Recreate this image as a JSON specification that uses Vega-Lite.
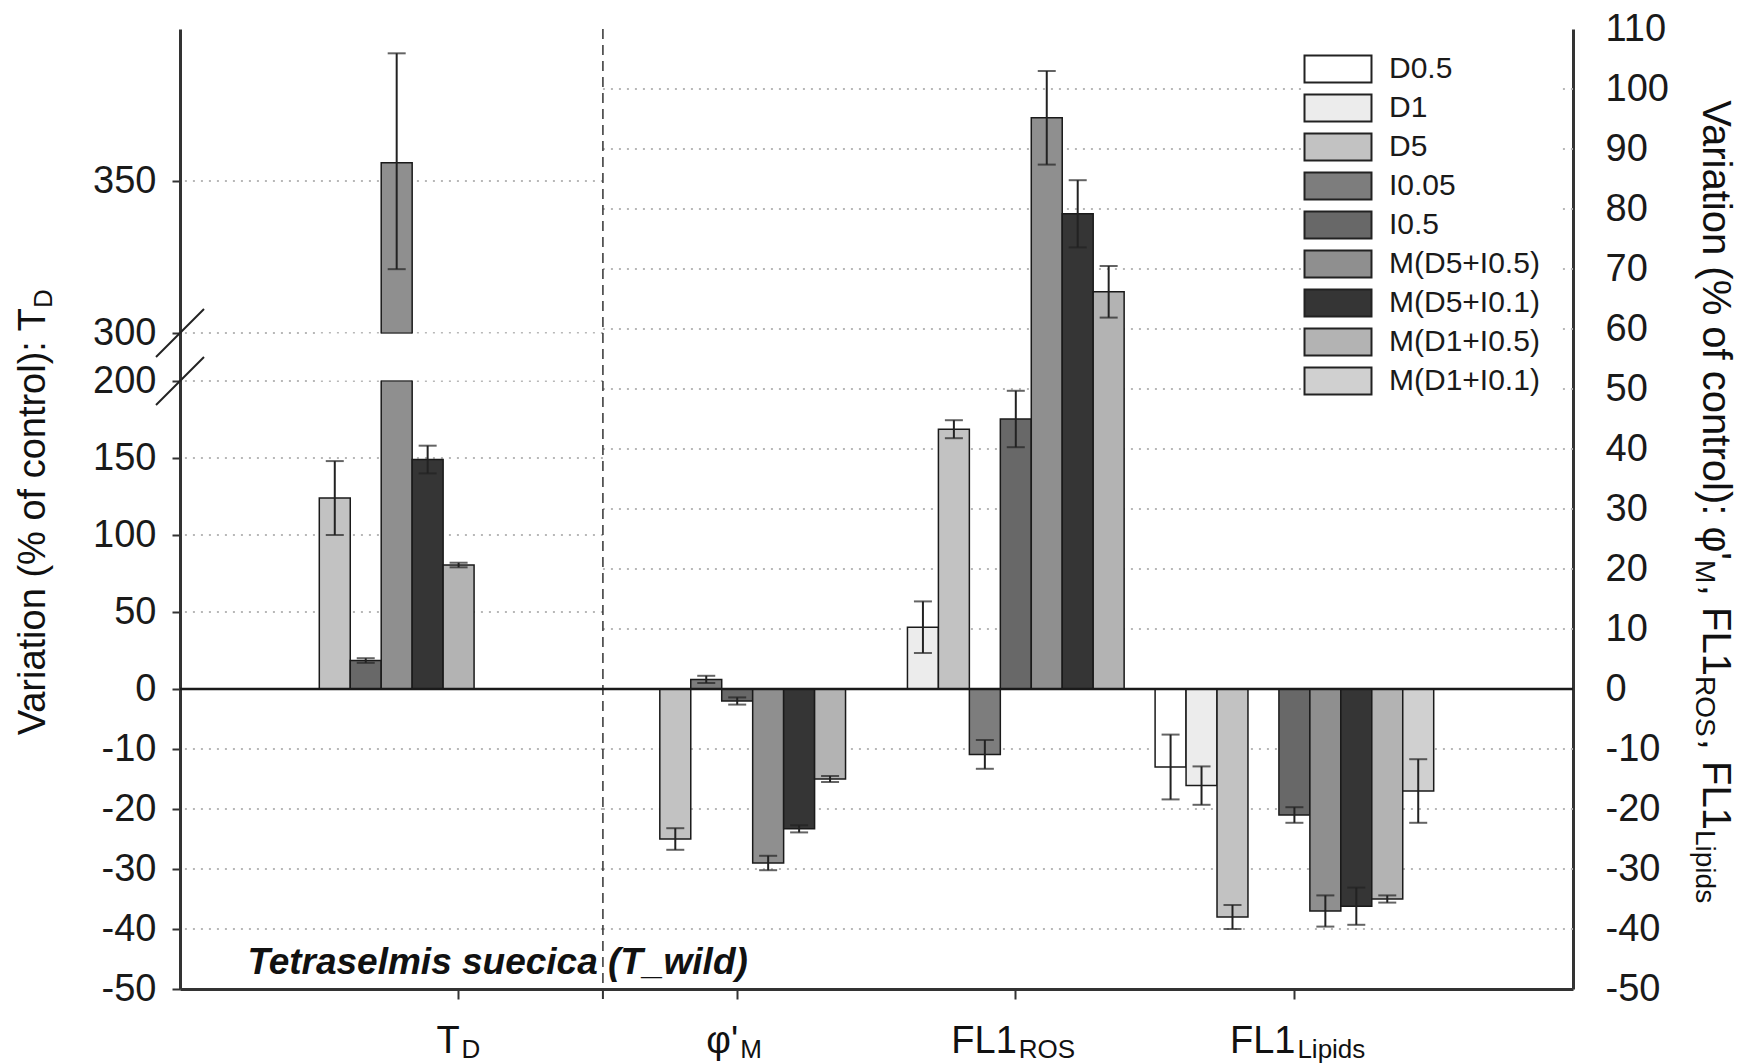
{
  "$schema": "https://vega.github.io/schema/vega-lite/v6.json",
  "width": 1393,
  "height": 960,
  "autosize": {"type": "none"},
  "padding": {"left": 180, "top": 29, "right": 168, "bottom": 75},
  "background": "white",
  "config": {
    "view": {"stroke": null},
    "font": "Liberation Sans",
    "axis": {"labelFont": "Liberation Sans", "labelColor": "#1a1a1a", "domainColor": "#333333", "tickColor": "#333333"}
  },
  "datasets": {
    "td": [
      {"cat": "TD", "series": "D5", "value": 124, "lo": 100, "hi": 148},
      {"cat": "TD", "series": "I0.5", "value": 18.5, "lo": 17, "hi": 20},
      {"cat": "TD", "series": "M(D5+I0.5)", "value": 356, "lo": 321, "hi": 392},
      {"cat": "TD", "series": "M(D5+I0.1)", "value": 149, "lo": 140, "hi": 158},
      {"cat": "TD", "series": "M(D1+I0.5)", "value": 80.5, "lo": 79, "hi": 82}
    ],
    "main": [
      {"cat": "PhiM", "series": "D5", "value": -25, "lo": -26.8, "hi": -23.2},
      {"cat": "PhiM", "series": "I0.05", "value": 1.6, "lo": 1.0, "hi": 2.2},
      {"cat": "PhiM", "series": "I0.5", "value": -2.0, "lo": -2.6, "hi": -1.4},
      {"cat": "PhiM", "series": "M(D5+I0.5)", "value": -29, "lo": -30.2, "hi": -27.8},
      {"cat": "PhiM", "series": "M(D5+I0.1)", "value": -23.3, "lo": -23.9, "hi": -22.7},
      {"cat": "PhiM", "series": "M(D1+I0.5)", "value": -15, "lo": -15.5, "hi": -14.5},
      {"cat": "FL1ROS", "series": "D1", "value": 10.3, "lo": 6.0, "hi": 14.6},
      {"cat": "FL1ROS", "series": "D5", "value": 43.3, "lo": 41.8, "hi": 44.8},
      {"cat": "FL1ROS", "series": "I0.05", "value": -10.9, "lo": -13.3, "hi": -8.5},
      {"cat": "FL1ROS", "series": "I0.5", "value": 45, "lo": 40.3, "hi": 49.7},
      {"cat": "FL1ROS", "series": "M(D5+I0.5)", "value": 95.2, "lo": 87.4, "hi": 103},
      {"cat": "FL1ROS", "series": "M(D5+I0.1)", "value": 79.2, "lo": 73.6, "hi": 84.8},
      {"cat": "FL1ROS", "series": "M(D1+I0.5)", "value": 66.2, "lo": 61.9, "hi": 70.5},
      {"cat": "FL1Lipids", "series": "D0.5", "value": -13, "lo": -18.4, "hi": -7.6},
      {"cat": "FL1Lipids", "series": "D1", "value": -16.1, "lo": -19.3, "hi": -12.9},
      {"cat": "FL1Lipids", "series": "D5", "value": -38, "lo": -40, "hi": -36},
      {"cat": "FL1Lipids", "series": "I0.5", "value": -21, "lo": -22.3, "hi": -19.7},
      {"cat": "FL1Lipids", "series": "M(D5+I0.5)", "value": -37, "lo": -39.6, "hi": -34.4},
      {"cat": "FL1Lipids", "series": "M(D5+I0.1)", "value": -36.2, "lo": -39.3, "hi": -33.1},
      {"cat": "FL1Lipids", "series": "M(D1+I0.5)", "value": -35, "lo": -35.6, "hi": -34.4},
      {"cat": "FL1Lipids", "series": "M(D1+I0.1)", "value": -17, "lo": -22.3, "hi": -11.7}
    ],
    "labels": [
      {"cat": "TD", "main": "T", "sub": "D"},
      {"cat": "PhiM", "main": "φ'", "sub": "M"},
      {"cat": "FL1ROS", "main": "FL1", "sub": "ROS"},
      {"cat": "FL1Lipids", "main": "FL1", "sub": "Lipids"}
    ],
    "gridL": [{"g": 350}, {"g": 300}, {"g": 200}, {"g": 150}, {"g": 100}, {"g": 50}, {"g": -10}, {"g": -20}, {"g": -30}, {"g": -40}],
    "gridR": [{"g": 100}, {"g": 90}, {"g": 80}, {"g": 70}, {"g": 60}, {"g": 50}, {"g": 40}, {"g": 30}, {"g": 20}, {"g": 10}, {"g": -10}, {"g": -20}, {"g": -30}, {"g": -40}],
    "breaks": [{"g": 200}, {"g": 300}],
    "one": [{}]
  },
  "layer": [
    {
      "data": {"name": "gridL"},
      "mark": {"type": "rule", "stroke": "#b8b8b8", "strokeWidth": 2, "strokeDash": [2, 6]},
      "encoding": {
        "x": {"datum": "PhiM", "type": "nominal", "bandPosition": 0.018, "scale": {"domain": ["TD", "PhiM", "FL1ROS", "FL1Lipids"], "paddingInner": 0, "paddingOuter": 0.5}, "axis": {"orient": "bottom", "labels": false, "title": null, "tickSize": 10, "tickWidth": 2, "domainWidth": 3, "grid": false}},
        "x2": {"value": 0},
        "y": {"field": "g", "type": "quantitative", "scale": {"domain": [-50, 0, 200, 300, 400], "range": [960, 660, 352, 304, 0], "nice": false, "zero": false},
          "axis": {"orient": "left", "values": [-50, -40, -30, -20, -10, 0, 50, 100, 150, 200, 300, 350], "labelExpr": "'' + datum.value", "title": null, "grid": false, "tickSize": 8, "tickWidth": 2, "domainWidth": 3, "labelFontSize": 38, "labelPadding": 16}}
      }
    },
    {
      "data": {"name": "gridR"},
      "mark": {"type": "rule", "stroke": "#b8b8b8", "strokeWidth": 2, "strokeDash": [2, 6]},
      "encoding": {
        "x": {"datum": "PhiM", "type": "nominal", "bandPosition": 0.018, "scale": {"domain": ["TD", "PhiM", "FL1ROS", "FL1Lipids"], "paddingInner": 0, "paddingOuter": 0.5}, "axis": {"orient": "bottom", "labels": false, "title": null, "tickSize": 10, "tickWidth": 2, "domainWidth": 3, "grid": false}},
        "x2": {"value": "width"},
        "y": {"field": "g", "type": "quantitative", "scale": {"domain": [-50, 110], "nice": false, "zero": false},
          "axis": {"orient": "right", "values": [-50, -40, -30, -20, -10, 0, 10, 20, 30, 40, 50, 60, 70, 80, 90, 100, 110], "labelExpr": "'' + datum.value", "title": null, "grid": false, "tickSize": 0, "domainWidth": 3, "labelFontSize": 38, "labelPadding": 32}}
      }
    },
    {
      "data": {"name": "one"},
      "mark": {"type": "rule", "stroke": "#333333", "strokeWidth": 1.5, "strokeDash": [10, 6]},
      "encoding": {
        "x": {"datum": "PhiM", "type": "nominal", "bandPosition": 0.018, "scale": {"domain": ["TD", "PhiM", "FL1ROS", "FL1Lipids"], "paddingInner": 0, "paddingOuter": 0.5}, "axis": {"orient": "bottom", "labels": false, "title": null, "tickSize": 10, "tickWidth": 2, "domainWidth": 3, "grid": false}}
      }
    },
    {
      "data": {"name": "one"},
      "mark": {"type": "rule", "stroke": "#333333", "strokeWidth": 2, "y2Offset": 10},
      "encoding": {
        "x": {"datum": "PhiM", "type": "nominal", "bandPosition": 0.018, "scale": {"domain": ["TD", "PhiM", "FL1ROS", "FL1Lipids"], "paddingInner": 0, "paddingOuter": 0.5}, "axis": {"orient": "bottom", "labels": false, "title": null, "tickSize": 10, "tickWidth": 2, "domainWidth": 3, "grid": false}},
        "y": {"datum": -50, "type": "quantitative", "scale": {"domain": [-50, 110], "nice": false, "zero": false}, "axis": null},
        "y2": {"datum": -50}
      }
    },
    {
      "data": {"name": "td"},
      "mark": {"type": "bar", "stroke": "#1a1a1a", "strokeWidth": 1.5},
      "encoding": {
        "x": {"field": "cat", "type": "nominal", "scale": {"domain": ["TD", "PhiM", "FL1ROS", "FL1Lipids"], "paddingInner": 0, "paddingOuter": 0.5}, "axis": {"orient": "bottom", "labels": false, "title": null, "tickSize": 10, "tickWidth": 2, "domainWidth": 3, "grid": false}},
        "xOffset": {"field": "series", "type": "nominal", "scale": {"domain": ["D5", "I0.5", "M(D5+I0.5)", "M(D5+I0.1)", "M(D1+I0.5)", "s6", "s7", "s8", "s9"], "paddingInner": 0, "paddingOuter": 0}},
        "y": {"field": "value", "type": "quantitative", "scale": {"domain": [-50, 0, 200, 300, 400], "range": [960, 660, 352, 304, 0], "nice": false, "zero": false}, "axis": null},
        "y2": {"datum": 0},
        "fill": {"field": "series", "type": "nominal", "scale": {"domain": ["D0.5", "D1", "D5", "I0.05", "I0.5", "M(D5+I0.5)", "M(D5+I0.1)", "M(D1+I0.5)", "M(D1+I0.1)"], "range": ["#ffffff", "#ececec", "#c2c2c2", "#7d7d7d", "#686868", "#8f8f8f", "#353535", "#b3b3b3", "#d0d0d0"]},
          "legend": {"orient": "none", "legendX": 1123, "legendY": 5, "title": null, "symbolType": "M-2.5,-1H2.5V1H-2.5Z", "symbolSize": 718, "symbolStrokeColor": "#222222", "symbolStrokeWidth": 2, "labelFontSize": 30, "labelFont": "Liberation Sans", "labelColor": "#1a1a1a", "labelOffset": 36, "rowPadding": 3, "padding": 20, "fillColor": "white", "labelLimit": 300}}
      }
    },
    {
      "data": {"name": "td"},
      "transform": [{"filter": "datum.series === 'M(D5+I0.5)'"}],
      "mark": {"type": "rect", "fill": "white"},
      "encoding": {
        "x": {"field": "cat", "type": "nominal", "scale": {"domain": ["TD", "PhiM", "FL1ROS", "FL1Lipids"], "paddingInner": 0, "paddingOuter": 0.5}, "axis": {"orient": "bottom", "labels": false, "title": null, "tickSize": 10, "tickWidth": 2, "domainWidth": 3, "grid": false}},
        "y": {"datum": 201, "type": "quantitative", "scale": {"domain": [-50, 0, 200, 300, 400], "range": [960, 660, 352, 304, 0], "nice": false, "zero": false}, "axis": null},
        "y2": {"datum": 299}
      }
    },
    {
      "data": {"name": "td"},
      "transform": [{"filter": "datum.series === 'M(D5+I0.5)'"}],
      "mark": {"type": "tick", "color": "#1a1a1a", "size": 31, "thickness": 1.5, "orient": "horizontal"},
      "encoding": {
        "x": {"field": "cat", "type": "nominal", "scale": {"domain": ["TD", "PhiM", "FL1ROS", "FL1Lipids"], "paddingInner": 0, "paddingOuter": 0.5}, "axis": {"orient": "bottom", "labels": false, "title": null, "tickSize": 10, "tickWidth": 2, "domainWidth": 3, "grid": false}},
        "xOffset": {"field": "series", "type": "nominal", "scale": {"domain": ["D5", "I0.5", "M(D5+I0.5)", "M(D5+I0.1)", "M(D1+I0.5)", "s6", "s7", "s8", "s9"], "paddingInner": 0, "paddingOuter": 0}},
        "y": {"datum": 200, "type": "quantitative", "scale": {"domain": [-50, 0, 200, 300, 400], "range": [960, 660, 352, 304, 0], "nice": false, "zero": false}, "axis": null}
      }
    },
    {
      "data": {"name": "td"},
      "transform": [{"filter": "datum.series === 'M(D5+I0.5)'"}],
      "mark": {"type": "tick", "color": "#1a1a1a", "size": 31, "thickness": 1.5, "orient": "horizontal"},
      "encoding": {
        "x": {"field": "cat", "type": "nominal", "scale": {"domain": ["TD", "PhiM", "FL1ROS", "FL1Lipids"], "paddingInner": 0, "paddingOuter": 0.5}, "axis": {"orient": "bottom", "labels": false, "title": null, "tickSize": 10, "tickWidth": 2, "domainWidth": 3, "grid": false}},
        "xOffset": {"field": "series", "type": "nominal", "scale": {"domain": ["D5", "I0.5", "M(D5+I0.5)", "M(D5+I0.1)", "M(D1+I0.5)", "s6", "s7", "s8", "s9"], "paddingInner": 0, "paddingOuter": 0}},
        "y": {"datum": 300, "type": "quantitative", "scale": {"domain": [-50, 0, 200, 300, 400], "range": [960, 660, 352, 304, 0], "nice": false, "zero": false}, "axis": null}
      }
    },
    {
      "data": {"name": "td"},
      "mark": {"type": "rule", "stroke": "#222222", "strokeWidth": 2},
      "encoding": {
        "x": {"field": "cat", "type": "nominal", "scale": {"domain": ["TD", "PhiM", "FL1ROS", "FL1Lipids"], "paddingInner": 0, "paddingOuter": 0.5}, "axis": {"orient": "bottom", "labels": false, "title": null, "tickSize": 10, "tickWidth": 2, "domainWidth": 3, "grid": false}},
        "xOffset": {"field": "series", "type": "nominal", "scale": {"domain": ["D5", "I0.5", "M(D5+I0.5)", "M(D5+I0.1)", "M(D1+I0.5)", "s6", "s7", "s8", "s9"], "paddingInner": 0, "paddingOuter": 0}},
        "y": {"field": "lo", "type": "quantitative", "scale": {"domain": [-50, 0, 200, 300, 400], "range": [960, 660, 352, 304, 0], "nice": false, "zero": false}, "axis": null},
        "y2": {"field": "hi"}
      }
    },
    {
      "data": {"name": "td"},
      "mark": {"type": "tick", "color": "#222222", "size": 18, "thickness": 2, "orient": "horizontal"},
      "encoding": {
        "x": {"field": "cat", "type": "nominal", "scale": {"domain": ["TD", "PhiM", "FL1ROS", "FL1Lipids"], "paddingInner": 0, "paddingOuter": 0.5}, "axis": {"orient": "bottom", "labels": false, "title": null, "tickSize": 10, "tickWidth": 2, "domainWidth": 3, "grid": false}},
        "xOffset": {"field": "series", "type": "nominal", "scale": {"domain": ["D5", "I0.5", "M(D5+I0.5)", "M(D5+I0.1)", "M(D1+I0.5)", "s6", "s7", "s8", "s9"], "paddingInner": 0, "paddingOuter": 0}},
        "y": {"field": "hi", "type": "quantitative", "scale": {"domain": [-50, 0, 200, 300, 400], "range": [960, 660, 352, 304, 0], "nice": false, "zero": false}, "axis": null}
      }
    },
    {
      "data": {"name": "td"},
      "mark": {"type": "tick", "color": "#222222", "size": 18, "thickness": 2, "orient": "horizontal"},
      "encoding": {
        "x": {"field": "cat", "type": "nominal", "scale": {"domain": ["TD", "PhiM", "FL1ROS", "FL1Lipids"], "paddingInner": 0, "paddingOuter": 0.5}, "axis": {"orient": "bottom", "labels": false, "title": null, "tickSize": 10, "tickWidth": 2, "domainWidth": 3, "grid": false}},
        "xOffset": {"field": "series", "type": "nominal", "scale": {"domain": ["D5", "I0.5", "M(D5+I0.5)", "M(D5+I0.1)", "M(D1+I0.5)", "s6", "s7", "s8", "s9"], "paddingInner": 0, "paddingOuter": 0}},
        "y": {"field": "lo", "type": "quantitative", "scale": {"domain": [-50, 0, 200, 300, 400], "range": [960, 660, 352, 304, 0], "nice": false, "zero": false}, "axis": null}
      }
    },
    {
      "data": {"name": "breaks"},
      "mark": {"type": "rule", "stroke": "#222222", "strokeWidth": 2, "xOffset": -24, "x2Offset": 24, "yOffset": 24, "y2Offset": -24},
      "encoding": {
        "x": {"value": 0},
        "x2": {"value": 0},
        "y": {"field": "g", "type": "quantitative", "scale": {"domain": [-50, 0, 200, 300, 400], "range": [960, 660, 352, 304, 0], "nice": false, "zero": false}, "axis": null},
        "y2": {"field": "g"}
      }
    },
    {
      "data": {"name": "main"},
      "mark": {"type": "bar", "stroke": "#1a1a1a", "strokeWidth": 1.5},
      "encoding": {
        "x": {"field": "cat", "type": "nominal", "scale": {"domain": ["TD", "PhiM", "FL1ROS", "FL1Lipids"], "paddingInner": 0, "paddingOuter": 0.5}, "axis": {"orient": "bottom", "labels": false, "title": null, "tickSize": 10, "tickWidth": 2, "domainWidth": 3, "grid": false}},
        "xOffset": {"field": "series", "type": "nominal", "scale": {"domain": ["D0.5", "D1", "D5", "I0.05", "I0.5", "M(D5+I0.5)", "M(D5+I0.1)", "M(D1+I0.5)", "M(D1+I0.1)"], "paddingInner": 0, "paddingOuter": 0}},
        "y": {"field": "value", "type": "quantitative", "scale": {"domain": [-50, 110], "nice": false, "zero": false}, "axis": null},
        "y2": {"datum": 0},
        "fill": {"field": "series", "type": "nominal", "scale": {"domain": ["D0.5", "D1", "D5", "I0.05", "I0.5", "M(D5+I0.5)", "M(D5+I0.1)", "M(D1+I0.5)", "M(D1+I0.1)"], "range": ["#ffffff", "#ececec", "#c2c2c2", "#7d7d7d", "#686868", "#8f8f8f", "#353535", "#b3b3b3", "#d0d0d0"]},
          "legend": {"orient": "none", "legendX": 1123, "legendY": 5, "title": null, "symbolType": "M-2.5,-1H2.5V1H-2.5Z", "symbolSize": 718, "symbolStrokeColor": "#222222", "symbolStrokeWidth": 2, "labelFontSize": 30, "labelFont": "Liberation Sans", "labelColor": "#1a1a1a", "labelOffset": 36, "rowPadding": 3, "padding": 20, "fillColor": "white", "labelLimit": 300}}
      }
    },
    {
      "data": {"name": "main"},
      "mark": {"type": "rule", "stroke": "#222222", "strokeWidth": 2},
      "encoding": {
        "x": {"field": "cat", "type": "nominal", "scale": {"domain": ["TD", "PhiM", "FL1ROS", "FL1Lipids"], "paddingInner": 0, "paddingOuter": 0.5}, "axis": {"orient": "bottom", "labels": false, "title": null, "tickSize": 10, "tickWidth": 2, "domainWidth": 3, "grid": false}},
        "xOffset": {"field": "series", "type": "nominal", "scale": {"domain": ["D0.5", "D1", "D5", "I0.05", "I0.5", "M(D5+I0.5)", "M(D5+I0.1)", "M(D1+I0.5)", "M(D1+I0.1)"], "paddingInner": 0, "paddingOuter": 0}},
        "y": {"field": "lo", "type": "quantitative", "scale": {"domain": [-50, 110], "nice": false, "zero": false}, "axis": null},
        "y2": {"field": "hi"}
      }
    },
    {
      "data": {"name": "main"},
      "mark": {"type": "tick", "color": "#222222", "size": 18, "thickness": 2, "orient": "horizontal"},
      "encoding": {
        "x": {"field": "cat", "type": "nominal", "scale": {"domain": ["TD", "PhiM", "FL1ROS", "FL1Lipids"], "paddingInner": 0, "paddingOuter": 0.5}, "axis": {"orient": "bottom", "labels": false, "title": null, "tickSize": 10, "tickWidth": 2, "domainWidth": 3, "grid": false}},
        "xOffset": {"field": "series", "type": "nominal", "scale": {"domain": ["D0.5", "D1", "D5", "I0.05", "I0.5", "M(D5+I0.5)", "M(D5+I0.1)", "M(D1+I0.5)", "M(D1+I0.1)"], "paddingInner": 0, "paddingOuter": 0}},
        "y": {"field": "lo", "type": "quantitative", "scale": {"domain": [-50, 110], "nice": false, "zero": false}, "axis": null}
      }
    },
    {
      "data": {"name": "main"},
      "mark": {"type": "tick", "color": "#222222", "size": 18, "thickness": 2, "orient": "horizontal"},
      "encoding": {
        "x": {"field": "cat", "type": "nominal", "scale": {"domain": ["TD", "PhiM", "FL1ROS", "FL1Lipids"], "paddingInner": 0, "paddingOuter": 0.5}, "axis": {"orient": "bottom", "labels": false, "title": null, "tickSize": 10, "tickWidth": 2, "domainWidth": 3, "grid": false}},
        "xOffset": {"field": "series", "type": "nominal", "scale": {"domain": ["D0.5", "D1", "D5", "I0.05", "I0.5", "M(D5+I0.5)", "M(D5+I0.1)", "M(D1+I0.5)", "M(D1+I0.1)"], "paddingInner": 0, "paddingOuter": 0}},
        "y": {"field": "hi", "type": "quantitative", "scale": {"domain": [-50, 110], "nice": false, "zero": false}, "axis": null}
      }
    },
    {
      "data": {"name": "one"},
      "mark": {"type": "rule", "stroke": "#1a1a1a", "strokeWidth": 2.5},
      "encoding": {
        "y": {"datum": 0, "type": "quantitative", "scale": {"domain": [-50, 110], "nice": false, "zero": false}, "axis": null}
      }
    },
    {
      "data": {"name": "one"},
      "mark": {"type": "text", "text": "Tetraselmis suecica (T_wild)", "fontSize": 37, "fontStyle": "italic", "fontWeight": "bold", "align": "center", "baseline": "alphabetic", "color": "#111111"},
      "encoding": {
        "x": {"datum": "TD", "type": "nominal", "bandPosition": 0.64, "scale": {"domain": ["TD", "PhiM", "FL1ROS", "FL1Lipids"], "paddingInner": 0, "paddingOuter": 0.5}, "axis": {"orient": "bottom", "labels": false, "title": null, "tickSize": 10, "tickWidth": 2, "domainWidth": 3, "grid": false}},
        "y": {"datum": -47.5, "type": "quantitative", "scale": {"domain": [-50, 110], "nice": false, "zero": false}, "axis": null}
      }
    },
    {
      "data": {"name": "labels"},
      "mark": {"type": "text", "fontSize": 38, "align": "right", "baseline": "alphabetic", "dx": 1, "dy": 64, "color": "#111111"},
      "encoding": {
        "x": {"field": "cat", "type": "nominal", "scale": {"domain": ["TD", "PhiM", "FL1ROS", "FL1Lipids"], "paddingInner": 0, "paddingOuter": 0.5}, "axis": {"orient": "bottom", "labels": false, "title": null, "tickSize": 10, "tickWidth": 2, "domainWidth": 3, "grid": false}},
        "y": {"datum": -50, "type": "quantitative", "scale": {"domain": [-50, 110], "nice": false, "zero": false}, "axis": null},
        "text": {"field": "main"}
      }
    },
    {
      "data": {"name": "labels"},
      "mark": {"type": "text", "fontSize": 26, "align": "left", "baseline": "alphabetic", "dx": 3, "dy": 69, "color": "#111111"},
      "encoding": {
        "x": {"field": "cat", "type": "nominal", "scale": {"domain": ["TD", "PhiM", "FL1ROS", "FL1Lipids"], "paddingInner": 0, "paddingOuter": 0.5}, "axis": {"orient": "bottom", "labels": false, "title": null, "tickSize": 10, "tickWidth": 2, "domainWidth": 3, "grid": false}},
        "y": {"datum": -50, "type": "quantitative", "scale": {"domain": [-50, 110], "nice": false, "zero": false}, "axis": null},
        "text": {"field": "sub"}
      }
    },
    {
      "data": {"name": "one"},
      "mark": {"type": "text", "text": "Variation (% of control): T", "fontSize": 38, "angle": 270, "align": "right", "baseline": "alphabetic", "color": "#111111"},
      "encoding": {"x": {"value": -135}, "y": {"value": 279}}
    },
    {
      "data": {"name": "one"},
      "mark": {"type": "text", "text": "D", "fontSize": 26, "angle": 270, "align": "left", "baseline": "alphabetic", "color": "#111111"},
      "encoding": {"x": {"value": -128}, "y": {"value": 279}}
    },
    {
      "data": {"name": "one"},
      "mark": {"type": "text", "text": "Variation (% of control): φ'", "fontSize": 40, "angle": 90, "align": "right", "baseline": "alphabetic", "color": "#111111"},
      "encoding": {"x": {"value": 1523}, "y": {"value": 531}}
    },
    {
      "data": {"name": "one"},
      "mark": {"type": "text", "text": "M", "fontSize": 28, "angle": 90, "align": "left", "baseline": "alphabetic", "color": "#111111"},
      "encoding": {"x": {"value": 1516}, "y": {"value": 531}}
    },
    {
      "data": {"name": "one"},
      "mark": {"type": "text", "text": ", FL1", "fontSize": 40, "angle": 90, "align": "right", "baseline": "alphabetic", "color": "#111111"},
      "encoding": {"x": {"value": 1523}, "y": {"value": 647}}
    },
    {
      "data": {"name": "one"},
      "mark": {"type": "text", "text": "ROS", "fontSize": 28, "angle": 90, "align": "left", "baseline": "alphabetic", "color": "#111111"},
      "encoding": {"x": {"value": 1516}, "y": {"value": 647}}
    },
    {
      "data": {"name": "one"},
      "mark": {"type": "text", "text": ", FL1", "fontSize": 40, "angle": 90, "align": "right", "baseline": "alphabetic", "color": "#111111"},
      "encoding": {"x": {"value": 1523}, "y": {"value": 801}}
    },
    {
      "data": {"name": "one"},
      "mark": {"type": "text", "text": "Lipids", "fontSize": 28, "angle": 90, "align": "left", "baseline": "alphabetic", "color": "#111111"},
      "encoding": {"x": {"value": 1516}, "y": {"value": 801}}
    }
  ],
  "resolve": {"scale": {"y": "independent", "xOffset": "independent"}}
}
